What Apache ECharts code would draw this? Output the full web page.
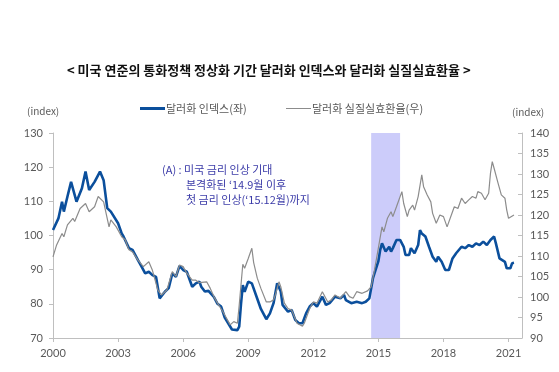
<!DOCTYPE html>
<html><head><meta charset="utf-8">
<script src="https://cdn.jsdelivr.net/npm/echarts@6/dist/echarts.min.js"></script>
<style>html,body{margin:0;padding:0;background:#fff}#c{width:559px;height:372px}</style>
</head><body><div id="c"></div>
<script>
// ---- data ----
const title = '< 미국 연준의 통화정책 정상화 기간 달러화 인덱스와 달러화 실질실효환율 >';
const seriesNames = ['달러화 인덱스(좌)', '달러화 실질실효환율(우)'];
const xTickYears = [2000, 2003, 2006, 2009, 2012, 2015, 2018, 2021];
const leftTicks = [70, 80, 90, 100, 110, 120, 130];
const rightTicks = [90, 95, 100, 105, 110, 115, 120, 125, 130, 135, 140];
const bandPeriod = ['2014-09', '2015-12'];
const annotationLines = ['(A) : 미국 금리 인상 기대', '본격화된 \u201814.9월 이후', '첫 금리 인상(\u201815.12월)까지'];

const dxyMonths = ['2000-01','2000-04','2000-06','2000-07','2000-09','2000-11','2000-12','2001-02','2001-05','2001-07','2001-09','2001-12',
 '2002-03','2002-05','2002-07','2002-09','2002-10','2003-01','2003-03','2003-04','2003-07','2003-09','2003-12','2004-02','2004-04',
 '2004-06','2004-08','2004-10','2004-12','2005-03','2005-05','2005-07','2005-09','2005-11','2006-01','2006-03','2006-06','2006-08',
 '2006-10','2006-11','2007-01','2007-03','2007-06','2007-08','2007-10','2007-12','2008-01','2008-04','2008-05','2008-07','2008-08',
 '2008-09','2008-10','2008-11','2009-01','2009-03','2009-04','2009-06','2009-08','2009-11','2010-01','2010-03','2010-05','2010-07',
 '2010-08','2010-11','2011-01','2011-03','2011-05','2011-07','2011-09','2011-11','2012-01','2012-03','2012-06','2012-08','2012-10',
 '2013-01','2013-04','2013-06','2013-07','2013-10','2014-01','2014-04','2014-06','2014-08','2014-10','2015-01','2015-02','2015-03',
 '2015-04','2015-05','2015-07','2015-08','2015-09','2015-11','2015-12','2016-01','2016-03','2016-04','2016-06','2016-07','2016-09',
 '2016-11','2016-12','2017-01','2017-03','2017-05','2017-07','2017-09','2017-10','2017-12','2018-02','2018-04','2018-06','2018-08',
 '2018-09','2018-11','2019-01','2019-03','2019-05','2019-07','2019-09','2019-11','2020-01','2020-03','2020-05','2020-06','2020-08',
 '2020-09','2020-11','2020-12','2021-02','2021-03','2021-04'];
const dxyValues = [101.6,105,109.9,107,111.4,115.7,116,109.9,113.8,118.7,113.3,115.7,
 118.7,116.2,108,107,107,103.6,100.6,99.7,96.3,95.8,92.8,90.9,88.9,
 89.4,88.4,87.9,81.6,83.6,84.6,88.9,87.9,91.1,89.9,89.4,85,86,
 86.5,85,83.6,83.8,82,80,79.2,76,76,72.5,72.8,72.3,73.3,
 80,85.5,83.5,86.5,86,85.5,81.5,78.5,75.5,77.2,80.2,86,83.6,
 79.7,77.7,78.2,75.3,74.3,74.3,77.2,79.2,80.2,79.2,82.1,79.7,80.2,
 82.1,81.6,82.6,81.1,80.2,80.6,80.2,80.6,81.6,87.5,92.5,95.8,97.7,
 97.2,95.3,96.7,95.3,96.3,98.7,98.2,98.7,96.7,94.3,94.3,96.3,94.8,
 97.2,101.6,100.6,99.7,96.7,93.8,92.3,93.8,92.3,89.9,89.9,93.3,94.8,
 95.3,96.7,96.3,97.2,96.7,97.7,97.2,98.2,97.2,98.7,99.7,97.7,93.3,
 93.3,92.3,90.4,90.4,91.9,92];

const reerMonths = ['2000-01','2000-03','2000-06','2000-07','2000-09','2000-12','2001-01','2001-04','2001-05','2001-07','2001-09','2001-12',
 '2002-02','2002-03','2002-05','2002-08','2002-09','2002-12','2003-03','2003-05','2003-07','2003-09','2003-12','2004-03','2004-06',
 '2004-08','2004-11','2005-01','2005-04','2005-07','2005-09','2005-11','2006-01','2006-03','2006-06','2006-08','2006-10','2007-02',
 '2007-04','2007-06','2007-08','2007-11','2007-12','2008-03','2008-05','2008-07','2008-08','2008-10','2008-11','2009-01','2009-03',
 '2009-04','2009-06','2009-08','2009-11','2010-01','2010-03','2010-04','2010-06','2010-07','2010-09','2010-11','2011-01','2011-04',
 '2011-07','2011-08','2011-11','2012-01','2012-03','2012-06','2012-09','2012-11','2013-01','2013-04','2013-07','2013-09','2013-11',
 '2014-01','2014-04','2014-07','2014-09','2014-11','2015-01','2015-03','2015-04','2015-06','2015-08','2015-09','2015-11','2015-12',
 '2016-02','2016-03','2016-05','2016-06','2016-08','2016-09','2016-11','2017-01','2017-02','2017-04','2017-06','2017-07','2017-09',
 '2017-11','2018-01','2018-03','2018-04','2018-06','2018-07','2018-09','2018-11','2019-01','2019-03','2019-05','2019-07','2019-08',
 '2019-10','2019-12','2020-02','2020-03','2020-04','2020-05','2020-07','2020-08','2020-09','2020-11','2020-12','2021-01','2021-02',
 '2021-04'];
const reerValues = [109.8,112.7,115.5,114.7,117.6,119.2,118.4,121.6,122,122.8,120.8,122,
 124.5,124.9,123.2,117.1,118.8,117.1,114.7,113.9,111.5,111,109,107.4,108.6,
 106.5,101.7,100.5,101.7,106.2,105,107.8,107.4,105.8,104.1,104.1,103.5,103.7,
 102.1,100.1,98.5,96.4,96,93.2,94,93.6,98,108,107,109.4,111.9,
 108.4,104.6,102.1,98.8,98.8,99.3,100.5,103.7,102.5,98.5,97.2,96.8,93.6,
 92.9,93.6,97.2,98.8,98.5,101.3,98.8,99.3,100.5,99.7,101.3,100.1,99.7,
 101.3,100.9,101.5,102.5,107,112,117.1,115.9,119.2,120.8,119.6,122,122.4,
 125.7,122.8,119.6,121.2,122.4,121.2,124.5,129.8,126.9,124.9,123.2,120.4,118,
 120,119.6,117.1,116.7,120.8,122,121.6,124.1,122.8,123.7,124.5,124.1,125.7,
 125.3,123.7,125.3,130.2,133,131.4,128.1,126.5,124.9,124.1,121.2,119.2,119.2,
 120];

// ---- build ----
function toX(m){ const p = m.split('-'); return +p[0] + (+p[1]-1)/12; }
const dxyData = dxyMonths.map((m,i)=>[toX(m), dxyValues[i]]);
const reerData = reerMonths.map((m,i)=>[toX(m), reerValues[i]]);
const bandStart = toX(bandPeriod[0]);
const bandEnd = toX(bandPeriod[1]) + 1/12;

const numFont = 'Lato';
const korFont = 'Noto Sans CJK KR';
const axisGray = '#bfbfbf';
const labelGray = '#595959';
const blue = '#0b4f9c';
const gray = '#8c8c8c';
const annColor = '#3b3ba8';

const chart = echarts.init(document.getElementById('c'), null, {renderer:'canvas'});
chart.setOption({
  animation: false,
  backgroundColor: '#fff',
  grid: {left: 53, right: 37, top: 133, bottom: 34, containLabel: false},
  xAxis: {
    type: 'value', min: 2000, max: 2021.62, interval: 3,
    axisLine: {show: true, lineStyle: {color: axisGray}},
    axisTick: {show: true, length: 4, lineStyle: {color: axisGray}},
    splitLine: {show: false},
    axisLabel: {color: labelGray, fontFamily: numFont, fontSize: 11, margin: 10,
      formatter: v => xTickYears.includes(Math.round(v)) ? String(Math.round(v)) : '',
      showMaxLabel: false}
  },
  yAxis: [
    {type: 'value', min: leftTicks[0], max: leftTicks[leftTicks.length-1], interval: 10, position: 'left',
     axisLine: {show: true, lineStyle: {color: axisGray}},
     axisTick: {show: true, length: 4, lineStyle: {color: axisGray}},
     splitLine: {show: false},
     axisLabel: {color: labelGray, fontFamily: numFont, fontSize: 11, margin: 10}},
    {type: 'value', min: rightTicks[0], max: rightTicks[rightTicks.length-1], interval: 5, position: 'right',
     axisLine: {show: true, lineStyle: {color: axisGray}},
     axisTick: {show: true, inside: true, length: 4, lineStyle: {color: axisGray}},
     splitLine: {show: false},
     axisLabel: {color: labelGray, fontFamily: numFont, fontSize: 11, margin: 8}}
  ],
  legend: [
    {data: [seriesNames[0]], left: 135, top: 98, itemWidth: 25, itemHeight: 3, itemGap: 0, icon: 'rect',
     textStyle: {color: labelGray, fontFamily: korFont, fontSize: 11, padding: [0,0,0,-4]}},
    {data: [seriesNames[1]], left: 281, top: 98, itemWidth: 25, itemHeight: 1, itemGap: 0, icon: 'rect',
     textStyle: {color: labelGray, fontFamily: korFont, fontSize: 11, padding: [0,0,0,-4]}}
  ],
  series: [
    {name: seriesNames[0], type: 'line', yAxisIndex: 0, data: dxyData, symbol: 'none', smooth: false,
     lineStyle: {color: blue, width: 2.6}, itemStyle: {color: blue}, z: 2,
     markArea: {silent: true, itemStyle: {color: '#ccccfa'}, data: [[{xAxis: bandStart}, {xAxis: bandEnd}]]}},
    {name: seriesNames[1], type: 'line', yAxisIndex: 1, data: reerData, symbol: 'none', smooth: false,
     lineStyle: {color: gray, width: 1.2}, itemStyle: {color: gray}, z: 3}
  ],
  graphic: [
    {type: 'text', left: 67, top: 64, style: {text: title, fill: '#111', font: 'bold 13px "Noto Sans CJK KR"'}},
    {type: 'text', left: 27, top: 106, style: {text: '(index)', fill: labelGray, font: '10px "Noto Sans CJK KR"'}},
    {type: 'text', left: 512, top: 107, style: {text: '(index)', fill: labelGray, font: '10px "Noto Sans CJK KR"'}},
    {type: 'text', left: 162, top: 164, style: {text: annotationLines[0], fill: annColor, font: '11px "Noto Sans CJK KR"'}},
    {type: 'text', left: 186, top: 179, style: {text: annotationLines[1], fill: annColor, font: '11px "Noto Sans CJK KR"'}},
    {type: 'text', left: 186, top: 194, style: {text: annotationLines[2], fill: annColor, font: '11px "Noto Sans CJK KR"'}},
    {type: 'text', left: 375, top: 138, style: {text: '(A)', fill: annColor, font: '12px "Noto Sans CJK KR"'}}
  ]
});
</script></body></html>
